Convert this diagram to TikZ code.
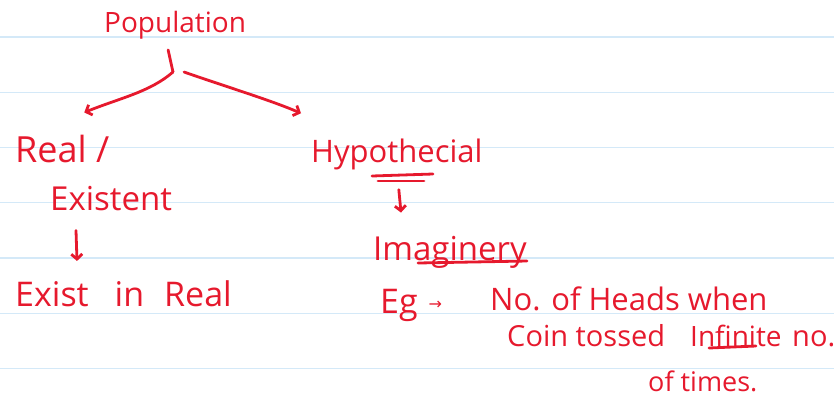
\documentclass[tikz,border=0pt]{standalone}
\usepackage{fontspec}
\setmainfont{Open Sans}
\newfontfamily\symfont{DejaVu Sans}
\usetikzlibrary{arrows.meta}

\definecolor{inkred}{RGB}{230,25,45}
\definecolor{rulerblue}{RGB}{212,233,248}
\newcommand{\inksize}[1]{\fontsize{#1}{#1}\selectfont}

\tikzset{
  hand/.style={text=inkred, inner sep=0pt, anchor=base west},
  pen/.style={draw=inkred, line width=2.8pt, line cap=round, line join=round},
  tip/.style={-{Straight Barb[length=5pt,width=11pt]}}
}

\begin{document}
\begin{tikzpicture}[x=1pt,y=-1pt]
\useasboundingbox (0,0) rectangle (834,400);

% ruled paper
\foreach \i in {0,...,6}
  \draw[rulerblue, line width=1.4pt] (0,37+55.25*\i) -- (834,37+55.25*\i);

% words
\node[hand, font=\inksize{28}] (pop) at (104,32) {Population};
\node[hand, font=\inksize{36}] (real) at (15,162) {Real /};
\node[hand, font=\inksize{33}] (exi) at (50,210) {Existent};
\node[hand, font=\inksize{34}] (eir) at (15,306) {Exist\hspace{26pt}in\hspace{20pt}Real};
\node[hand, font=\inksize{31}] (hyp) at (311,162) {Hypothecial};
\node[hand, font=\inksize{33}] (img) at (373,260) {Imaginery};
\node[hand, font=\inksize{34}] (eg) at (380,313) {Eg\hspace{11pt}\raisebox{4pt}{\symfont\inksize{16}→}};
\node[hand, font=\inksize{31}] (heads) at (490,310) {No. of Heads when};
\node[hand, font=\inksize{29}] (coin) at (507,346) {Coin tossed};
\node[hand, font=\inksize{28}] (inf) at (690,346) {Infinite};
\node[hand, font=\inksize{29}] (infno) at (792,346) {no.};
\node[hand, font=\inksize{27}] (times) at (648,391) {of times.};

% split
\coordinate (fork) at (173,72);
\draw[pen] ([shift={(-7pt,-11pt)}]pop.south) -- (fork);
\draw[pen, tip] (fork) .. controls (150,92) and (120,98) .. ([shift={(22pt,22pt)}]real.north);
\draw[pen, tip] ([xshift=11pt]fork) .. controls (230,88) and (270,100) .. ([shift={(-10pt,25pt)}]hyp.north west);

% down arrows
\draw[pen, tip] ([shift={(26pt,-20pt)}]exi.south west) -- ([shift={(62pt,19pt)}]eir.north west);
\draw[pen, tip] ([shift={(2pt,-20pt)}]hyp.south) -- ([shift={(28pt,23pt)}]img.north west);

% underlines
\draw[pen] ([shift={(61pt,-14pt)}]hyp.base west) -- ([shift={(122pt,-12pt)}]hyp.base west);
\draw[pen] ([shift={(67pt,-19pt)}]hyp.base west) -- ([shift={(113pt,-19pt)}]hyp.base west);
\draw[pen] ([shift={(45pt,-3pt)}]img.base west) -- ([shift={(154pt,-1pt)}]img.base west);
\draw[pen] ([shift={(19pt,-2pt)}]inf.base west) -- ([shift={(66pt,0pt)}]inf.base west);
\end{tikzpicture}
\end{document}
